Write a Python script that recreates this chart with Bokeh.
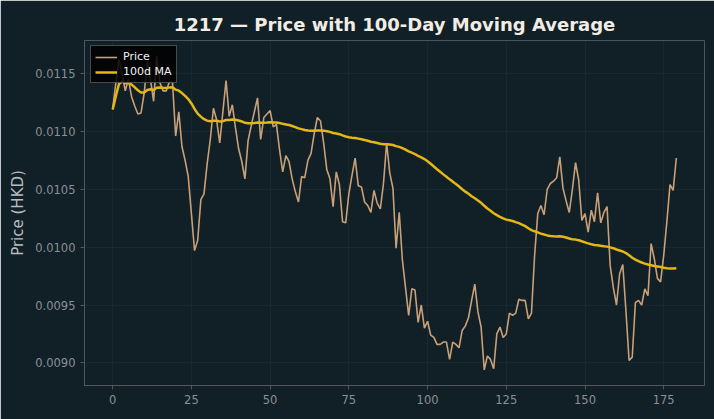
import pandas as pd
from bokeh.plotting import figure
from bokeh.models import (Range1d, SingleIntervalTicker, NumeralTickFormatter,
                          Legend, LegendItem, ColumnDataSource)
from bokeh.embed import file_html
from bokeh.resources import INLINE

# Daily closing prices for 1217 (HKD)
days = list(range(180))
price = [
    0.01119, 0.01142, 0.01162, 0.01150, 0.01135, 0.01145, 0.01130, 0.01122, 0.01115, 0.01116,
    0.01133, 0.01160, 0.01145, 0.01126, 0.01165, 0.01142, 0.01135, 0.01135, 0.01143, 0.01142,
    0.01096, 0.01117, 0.01087, 0.01075, 0.01061, 0.01029, 0.00997, 0.01006, 0.01041, 0.01046,
    0.01072, 0.01093, 0.01120, 0.01110, 0.01090, 0.01117, 0.01144, 0.01113, 0.01123, 0.01103,
    0.01085, 0.01074, 0.01059, 0.01092, 0.01105, 0.01117, 0.01129, 0.01093, 0.01112, 0.01115,
    0.01118, 0.01104, 0.01106, 0.01084, 0.01065, 0.01079, 0.01074, 0.01059, 0.01048, 0.01039,
    0.01061, 0.01060, 0.01075, 0.01081, 0.01098, 0.01112, 0.01109, 0.01090, 0.01067, 0.01059,
    0.01035, 0.01065, 0.01054, 0.01022, 0.01021, 0.01046, 0.01062, 0.01077, 0.01053, 0.01052,
    0.01039, 0.01036, 0.01030, 0.01049, 0.01038, 0.01033, 0.01055, 0.01090, 0.01064, 0.01051,
    0.00999, 0.01030, 0.00989, 0.00965, 0.00941, 0.00964, 0.00963, 0.00935, 0.00950, 0.00930,
    0.00936, 0.00924, 0.00922, 0.00916, 0.00916, 0.00918, 0.00918, 0.00903, 0.00918, 0.00916,
    0.00913, 0.00928, 0.00932, 0.00939, 0.00954, 0.00968, 0.00944, 0.00931, 0.00894, 0.00906,
    0.00903, 0.00895, 0.00925, 0.00931, 0.00922, 0.00925, 0.00943, 0.00941, 0.00943, 0.00955,
    0.00954, 0.00954, 0.00938, 0.00943, 0.00993, 0.01029, 0.01036, 0.01028, 0.01050, 0.01055,
    0.01057, 0.01060, 0.01078, 0.01051, 0.01040, 0.01030, 0.01050, 0.01073, 0.01058, 0.01023,
    0.01029, 0.01013, 0.01032, 0.01022, 0.01047, 0.01021, 0.01030, 0.01035, 0.00984, 0.00965,
    0.00950, 0.00977, 0.00985, 0.00945, 0.00902, 0.00905, 0.00952, 0.00954, 0.00950, 0.00964,
    0.00958, 0.01003, 0.00990, 0.00973, 0.00970, 0.00993, 0.01022, 0.01054, 0.01049, 0.01077,
]
ma_window = 100
ma = pd.Series(price).rolling(ma_window, min_periods=1).mean().tolist()

x_ticks_every = 25
y_ticks_every = 0.0005

BG = "#111f27"
PRICE_C = "#c9a077"
MA_C = "#e2b716"
SPINE = "#50565b"
TICK_TXT = "#8b9096"
FONT = "DejaVu Sans"

src = ColumnDataSource(dict(day=days, price=price, ma=ma))

# axis limits with 5% padding around the data
xpad = (max(days) - min(days)) * 0.05
ypad = (max(price) - min(price)) * 0.05

p = figure(width=714, height=419, output_backend="svg", toolbar_location=None,
           x_range=Range1d(min(days) - xpad, max(days) + xpad),
           y_range=Range1d(min(price) - ypad, max(price) + ypad),
           background_fill_color=BG, border_fill_color=BG,
           min_border_left=84, min_border_right=10, min_border_top=40,
           min_border_bottom=34, outline_line_color=None)

p.title.text = "1217 \u2014 Price with 100-Day Moving Average"
p.title.align = "center"
p.title.vertical_align = "middle"
p.title.text_color = "#f1ede4"
p.title.text_font = FONT
p.title.text_font_size = "18px"
p.title.text_font_style = "bold"

r_price = p.line("day", "price", source=src, line_color=PRICE_C, line_width=1.6)
r_ma = p.line("day", "ma", source=src, line_color=MA_C, line_width=2.5)

p.xaxis.ticker = SingleIntervalTicker(interval=x_ticks_every)
p.yaxis.ticker = SingleIntervalTicker(interval=y_ticks_every)
p.yaxis.formatter = NumeralTickFormatter(format="0.0000")
p.yaxis.axis_label = "Price (HKD)"

for ax in (p.xaxis, p.yaxis):
    ax.axis_line_color = SPINE
    ax.major_tick_line_color = SPINE
    ax.major_tick_out = 4
    ax.major_tick_in = 0
    ax.minor_tick_line_color = None
    ax.major_label_text_color = TICK_TXT
    ax.major_label_text_font = FONT
    ax.major_label_text_font_size = "11.5px"
    ax.axis_label_text_color = "#b8bcc0"
    ax.axis_label_text_font = FONT
    ax.axis_label_text_font_size = "15px"
    ax.axis_label_text_font_style = "normal"

p.xgrid.grid_line_color = "#2a3a44"
p.ygrid.grid_line_color = "#2a3a44"
p.xgrid.grid_line_alpha = 0.3
p.ygrid.grid_line_alpha = 0.3

legend = Legend(items=[LegendItem(label="Price", renderers=[r_price]),
                       LegendItem(label="100d MA", renderers=[r_ma])],
                location=(6, 302))
legend.background_fill_color = "#000000"
legend.background_fill_alpha = 0.85
legend.border_line_color = "#8d9297"
legend.border_line_width = 1
legend.label_text_color = "#f0f0f0"
legend.label_text_font = FONT
legend.label_text_font_size = "11px"
legend.glyph_width = 22
legend.glyph_height = 12
legend.label_standoff = 6
legend.label_height = 12
legend.spacing = 2
legend.padding = 4
legend.margin = 0
p.add_layout(legend, "center")

open("out.html", "w").write(file_html(p, INLINE))
